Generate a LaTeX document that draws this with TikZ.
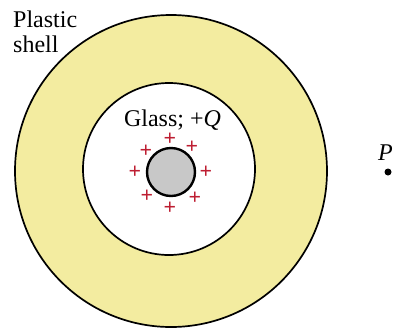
\documentclass[tikz,border=0pt]{standalone}
\usepackage{fontspec}
\setmainfont{Liberation Serif}
\definecolor{shellyellow}{RGB}{243,236,160}
\definecolor{glassgray}{RGB}{200,200,200}
\definecolor{plusred}{RGB}{190,30,50}
\begin{document}
\begin{tikzpicture}[x=1pt,y=-1pt,
  lbl/.style={inner sep=0pt,font=\fontsize{24}{25}\selectfont},
  pluschg/.style={inner sep=0pt,text=plusred,font=\fontsize{22}{22}\selectfont\bfseries},
]
\useasboundingbox (0,0) rectangle (393,330);
% shell
\fill[shellyellow] (171,171) circle[radius=156];
\draw[line width=1.7pt] (171,171) circle[radius=156];
\fill[white] (169,169) circle[radius=86];
\draw[line width=1.7pt] (169,169) circle[radius=86];
% glass ball
\node[circle,draw,line width=2.4pt,fill=glassgray,minimum size=48pt,inner sep=0pt] (ball) at (171,172) {};
% charges
\node[pluschg] (p1) at (170,139) {+};
\node[pluschg] (p2) at (146,151) {+};
\node[pluschg] (p3) at (192,147) {+};
\node[pluschg] (p4) at (135,172) {+};
\node[pluschg] (p5) at (206,172) {+};
\node[pluschg] (p6) at (147,196) {+};
\node[pluschg] (p7) at (195,198) {+};
\node[pluschg] (p8) at (170,208) {+};
% labels
\node[lbl,anchor=base] (glass) at (172.5,126) {Glass; +\textit{Q}};
\node[lbl,anchor=base west,align=left] (plastic) at (13,52) {Plastic\\shell};
\node[lbl,anchor=base west] (plab) at (378,160) {\textit{P}};
\fill (388,172) circle[radius=3.5] coordinate (P);
\end{tikzpicture}
\end{document}
